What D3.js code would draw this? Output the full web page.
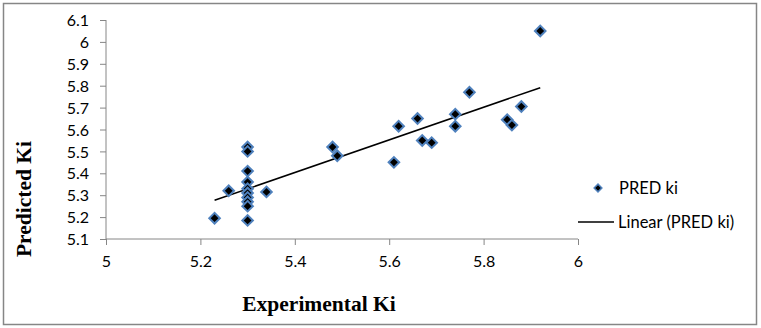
<!DOCTYPE html>
<html>
<head>
<meta charset="utf-8">
<script src="https://cdn.jsdelivr.net/npm/d3@7"></script>
<style>
  body { margin: 0; background: #fff; }
  .tick text { font-family: Lato, "Open Sans", sans-serif; font-size: 16px; fill: #000; }
  .axis path, .axis line { stroke: #868686; }
  .title { font-family: "Liberation Serif", "Times New Roman", serif; font-weight: bold; font-size: 21.5px; }
  .legend { font-family: Lato, "Open Sans", sans-serif; font-size: 16.5px; }
</style>
</head>
<body>
<svg id="chart" width="761" height="328"></svg>
<script>
// Experimental vs predicted values
const experimental = [5.92, 5.77, 5.88, 5.85, 5.86, 5.74, 5.74, 5.66, 5.62, 5.67, 5.69, 5.61,
    5.48, 5.49, 5.30, 5.30, 5.30, 5.30, 5.30, 5.30, 5.30, 5.30, 5.30, 5.30, 5.26, 5.34, 5.23];
const predicted = [6.05, 5.77, 5.705, 5.645, 5.62, 5.67, 5.615, 5.65, 5.615, 5.55, 5.54, 5.45,
    5.52, 5.48, 5.52, 5.50, 5.41, 5.36, 5.33, 5.31, 5.29, 5.27, 5.25, 5.185, 5.32, 5.315, 5.195];
const xTicks = [5, 5.2, 5.4, 5.6, 5.8, 6];
const yTicks = [5.1, 5.2, 5.3, 5.4, 5.5, 5.6, 5.7, 5.8, 5.9, 6, 6.1];
const seriesName = 'PRED ki';

const svg = d3.select('#chart');

// Outer frame
svg.append('rect')
    .attr('x', 3.5).attr('y', 3.5)
    .attr('width', 753).attr('height', 321)
    .attr('fill', '#fff')
    .attr('stroke', '#868686')
    .attr('stroke-width', 1.5);

const xScale = d3.scaleLinear().domain([5, 6]).range([106, 578]);
const yScale = d3.scaleLinear().domain([5.1, 6.1]).range([239, 20]);

// Axes
svg.append('g')
    .attr('class', 'axis x-axis')
    .attr('transform', `translate(0,${yScale(5.1)})`)
    .call(d3.axisBottom(xScale).tickValues(xTicks).tickSize(6).tickPadding(8).tickFormat(d3.format('')))
    .call(g => g.select('.domain').attr('d', `M${xScale(5)},0H${xScale(6)}`));

svg.append('g')
    .attr('class', 'axis y-axis')
    .attr('transform', `translate(${xScale(5)},0)`)
    .call(d3.axisLeft(yScale).tickValues(yTicks).tickSize(6).tickPadding(11).tickFormat(d3.format('')))
    .call(g => g.select('.domain').attr('d', `M0,${yScale(5.1)}V${yScale(6.1)}`));

svg.selectAll('.y-axis .tick text').attr('dy', '0.35em');
svg.selectAll('.x-axis .tick text').attr('dy', '0.85em');

// Linear trendline (least squares)
const mx = d3.mean(experimental), my = d3.mean(predicted);
let sxy = 0, sxx = 0;
experimental.forEach((x, i) => { sxy += (x - mx) * (predicted[i] - my); sxx += (x - mx) ** 2; });
const slope = sxy / sxx;
const intercept = my - slope * mx;
const [xMin, xMax] = d3.extent(experimental);

svg.append('line')
    .attr('x1', xScale(xMin)).attr('y1', yScale(intercept + slope * xMin))
    .attr('x2', xScale(xMax)).attr('y2', yScale(intercept + slope * xMax))
    .attr('stroke', '#000')
    .attr('stroke-width', 1.5);

// Diamond markers
const diamond = d3.symbol().type(d3.symbolSquare).size(56);
svg.append('g')
    .selectAll('path')
    .data(experimental.map((x, i) => ({ x, y: predicted[i] })))
    .join('path')
    .attr('d', diamond)
    .attr('transform', d => `translate(${xScale(d.x)},${yScale(d.y)}) rotate(45)`)
    .attr('fill', '#000')
    .attr('stroke', '#4f81bd')
    .attr('stroke-width', 2);

// Legend
svg.append('path')
    .attr('d', d3.symbol().type(d3.symbolSquare).size(30))
    .attr('transform', 'translate(598,188) rotate(45)')
    .attr('fill', '#000')
    .attr('stroke', '#4f81bd')
    .attr('stroke-width', 1.5);
svg.append('text')
    .attr('class', 'legend')
    .attr('x', 619).attr('y', 188).attr('dy', '0.35em')
    .text(seriesName);

svg.append('line')
    .attr('x1', 578).attr('x2', 614)
    .attr('y1', 222).attr('y2', 222)
    .attr('stroke', '#000').attr('stroke-width', 1.5);
svg.append('text')
    .attr('class', 'legend')
    .attr('x', 618).attr('y', 222).attr('dy', '0.35em')
    .text(`Linear (${seriesName})`);

// Axis titles
svg.append('text')
    .attr('class', 'title')
    .attr('x', 319).attr('y', 311)
    .attr('text-anchor', 'middle')
    .text('Experimental Ki');

svg.append('text')
    .attr('class', 'title')
    .attr('transform', 'translate(31,199) rotate(-90)')
    .attr('text-anchor', 'middle')
    .text('Predicted Ki');
</script>
</body>
</html>
